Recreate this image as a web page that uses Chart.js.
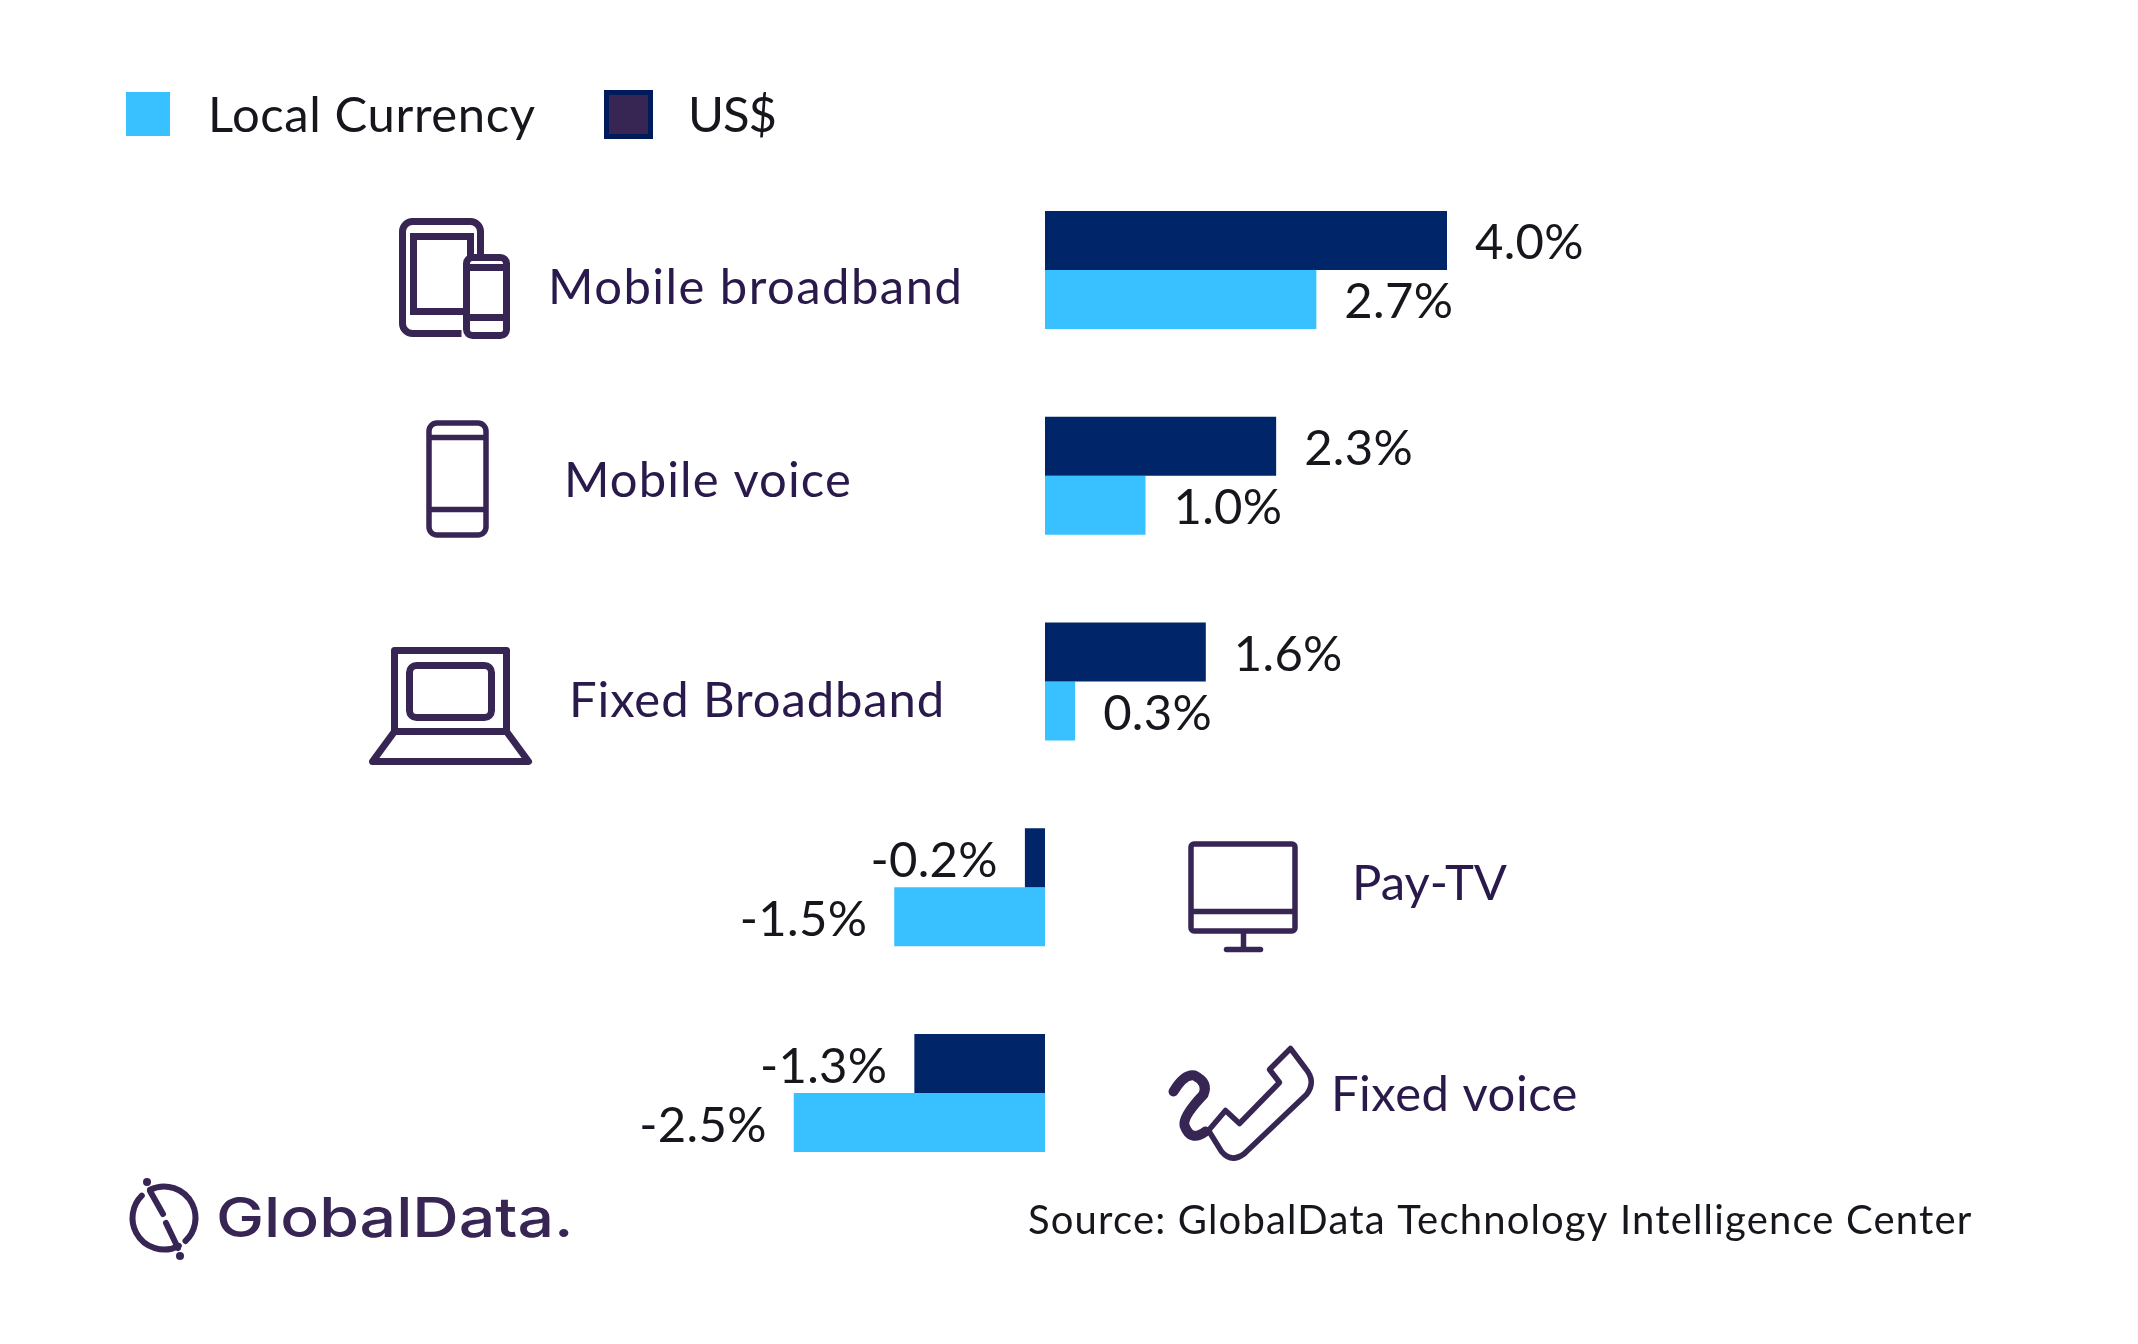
<!DOCTYPE html>
<html>
<head>
<meta charset="utf-8">
<title>Revenue growth by service</title>
<script src="https://cdn.jsdelivr.net/npm/chart.js@4/dist/chart.umd.min.js"></script>
<style>
  html, body { margin: 0; padding: 0; background: #ffffff; }
  canvas { display: block; }
</style>
</head>
<body>
<canvas id="growth" width="2138" height="1344"></canvas>
<script>
const categories = ['Mobile broadband', 'Mobile voice', 'Fixed Broadband', 'Pay-TV', 'Fixed voice'];
const usDollar = [4.0, 2.3, 1.6, -0.2, -1.3];
const localCurrency = [2.7, 1.0, 0.3, -1.5, -2.5];
const sourceNote = 'Source: GlobalData Technology Intelligence Center';
const logoText = 'GlobalData.';

const NAVY = '#002569';
const CYAN = '#38C0FF';
const PURPLE = '#372554';
const LABEL_PURPLE = '#2A1A4C';
const INK = '#16161D';
const FONT = 'Lato';

// where each category name starts (x, baseline, letter spacing)
const labelSpots = [[548, 304, 1.45], [564, 497, 1.1], [569, 717, 0.9], [1352, 900, 0], [1331, 1111, 0.5]];

function rr(ctx, x, y, w, h, r) {
    ctx.beginPath();
    ctx.roundRect(x, y, w, h, r);
    ctx.stroke();
}

function line(ctx, pts) {
    ctx.beginPath();
    pts.forEach((p, i) => i ? ctx.lineTo(p[0], p[1]) : ctx.moveTo(p[0], p[1]));
    ctx.stroke();
}

// one little line drawing per category
const icons = [
    function tabletAndPhone(ctx) {
        ctx.lineWidth = 7;
        ctx.beginPath();
        ctx.moveTo(463, 333);
        ctx.lineTo(414, 333);
        ctx.arcTo(404, 333, 404, 323, 10);
        ctx.lineTo(404, 231);
        ctx.arcTo(404, 221, 414, 221, 10);
        ctx.lineTo(472, 221);
        ctx.arcTo(482, 221, 482, 231, 10);
        ctx.lineTo(482, 257);
        ctx.stroke();
        ctx.beginPath();
        ctx.moveTo(466, 311);
        ctx.lineTo(415, 311);
        ctx.lineTo(415, 236);
        ctx.lineTo(472, 236);
        ctx.lineTo(472, 257);
        ctx.stroke();
        rr(ctx, 468, 257, 40, 78, 6);
        line(ctx, [[468, 267], [508, 267]]);
        line(ctx, [[468, 317], [508, 317]]);
    },
    function phone(ctx) {
        ctx.lineWidth = 5.5;
        rr(ctx, 430.5, 422.5, 57, 112, 8);
        line(ctx, [[431, 437], [487, 437]]);
        line(ctx, [[431, 509], [487, 509]]);
    },
    function laptop(ctx) {
        ctx.lineWidth = 7;
        ctx.lineJoin = 'round';
        line(ctx, [[396, 733], [396, 650], [508, 650], [508, 733]]);
        rr(ctx, 411, 665, 82, 52, 7);
        ctx.beginPath();
        ctx.moveTo(396, 731);
        ctx.lineTo(508, 731);
        ctx.lineTo(530, 761);
        ctx.lineTo(374, 761);
        ctx.closePath();
        ctx.stroke();
    },
    function monitor(ctx) {
        ctx.lineWidth = 5.5;
        rr(ctx, 1192.5, 843.5, 104, 87, 3);
        line(ctx, [[1193, 911], [1296, 911]]);
        line(ctx, [[1245, 931], [1245, 949]]);
        ctx.lineCap = 'round';
        line(ctx, [[1228, 949], [1262, 949]]);
    },
    function handset(ctx) {
        ctx.lineJoin = 'round';
        ctx.lineCap = 'round';
        ctx.lineWidth = 5.5;
        ctx.beginPath();
        ctx.moveTo(1292, 1048);
        ctx.lineTo(1307, 1068);
        ctx.quadraticCurveTo(1318, 1081, 1308, 1094);
        ctx.lineTo(1247, 1152);
        ctx.lineTo(1246, 1153);
        ctx.quadraticCurveTo(1233, 1163, 1223, 1151);
        ctx.lineTo(1210, 1130);
        ctx.lineTo(1227, 1110);
        ctx.lineTo(1241, 1123);
        ctx.lineTo(1281, 1082);
        ctx.lineTo(1271, 1069);
        ctx.closePath();
        ctx.stroke();
        // curly cord
        ctx.lineWidth = 10;
        ctx.beginPath();
        ctx.moveTo(1175, 1091);
        ctx.quadraticCurveTo(1186, 1073, 1196, 1075);
        ctx.quadraticCurveTo(1210, 1082, 1205, 1094);
        ctx.quadraticCurveTo(1184, 1116, 1186, 1125);
        ctx.quadraticCurveTo(1192, 1142, 1207, 1131);
        ctx.stroke();
    }
];

function drawLogo(ctx) {
    ctx.strokeStyle = PURPLE;
    ctx.fillStyle = PURPLE;
    ctx.lineWidth = 6;
    ctx.lineCap = 'round';
    ctx.beginPath();
    ctx.arc(164, 1218, 31.5, -2.03, 0.82);
    ctx.stroke();
    ctx.beginPath();
    ctx.arc(164, 1218, 31.5, 1.08, 3.93);
    ctx.stroke();
    line(ctx, [[150, 1191], [163, 1214]]);
    line(ctx, [[166, 1223], [178, 1248]]);
    [[147, 1182], [180, 1256]].forEach(d => {
        ctx.beginPath();
        ctx.arc(d[0], d[1], 4, 0, Math.PI * 2);
        ctx.fill();
    });
    // the wordmark font is wider than anything installed, so stretch it
    ctx.save();
    ctx.translate(216, 1237);
    ctx.scale(1.17, 1);
    ctx.font = '500 55px Inter';
    ctx.textAlign = 'left';
    ctx.fillText(logoText, 0, 0);
    ctx.restore();
}

// value labels, legend, category names, icons, logo and source line
const annotations = {
    id: 'annotations',
    afterDatasetsDraw(chart) {
        const { ctx } = chart;

        ctx.save();
        ctx.textBaseline = 'alphabetic';
        ctx.font = `49px ${FONT}`;
        ctx.fillStyle = INK;
        ctx.letterSpacing = '0.3px';
        chart.data.datasets.forEach((set, d) => {
            chart.getDatasetMeta(d).data.forEach((bar, i) => {
                const v = set.data[i];
                ctx.textAlign = v < 0 ? 'right' : 'left';
                ctx.fillText(v.toFixed(1) + '%', bar.x + (v < 0 ? -27 : 28), bar.y + 19);
            });
        });

        // legend goes local currency first although the bars stack the other way
        const [us, local] = chart.data.datasets;
        ctx.textAlign = 'left';
        ctx.fillStyle = local.backgroundColor;
        ctx.fillRect(126, 92, 44, 44);
        ctx.fillStyle = '#001B5C';
        ctx.fillRect(604, 90, 49, 49);
        ctx.fillStyle = PURPLE;
        ctx.fillRect(609, 95, 39, 39);
        ctx.fillStyle = INK;
        ctx.letterSpacing = '0.6px';
        ctx.fillText(local.label, 208, 132);
        ctx.letterSpacing = '-1px';
        ctx.fillText(us.label, 688, 132);

        ctx.fillStyle = LABEL_PURPLE;
        categories.forEach((name, i) => {
            ctx.letterSpacing = labelSpots[i][2] + 'px';
            ctx.fillText(name, labelSpots[i][0], labelSpots[i][1]);
        });
        ctx.letterSpacing = '0px';

        ctx.strokeStyle = PURPLE;
        icons.forEach(draw => {
            ctx.save();
            ctx.translate(-1.5, 0.5);
            draw(ctx);
            ctx.restore();
        });

        drawLogo(ctx);

        ctx.font = `40px ${FONT}`;
        ctx.fillStyle = INK;
        ctx.letterSpacing = '1.17px';
        ctx.fillText(sourceNote, 1028, 1234);
        ctx.restore();
    }
};

new Chart(document.getElementById('growth'), {
    type: 'bar',
    data: {
        labels: categories,
        datasets: [
            { label: 'US$', data: usDollar, backgroundColor: NAVY },
            { label: 'Local Currency', data: localCurrency, backgroundColor: CYAN }
        ]
    },
    options: {
        indexAxis: 'y',
        responsive: false,
        animation: false,
        devicePixelRatio: 1,
        barPercentage: 1,
        categoryPercentage: 0.5735,
        layout: { padding: { left: 40, right: 88, top: 167, bottom: 148 } },
        plugins: {
            legend: { display: false },
            tooltip: { enabled: false }
        },
        scales: {
            x: { display: false, min: -10, max: 10, grid: { display: false } },
            y: { display: false, grid: { display: false } }
        }
    },
    plugins: [annotations]
});
</script>
</body>
</html>
